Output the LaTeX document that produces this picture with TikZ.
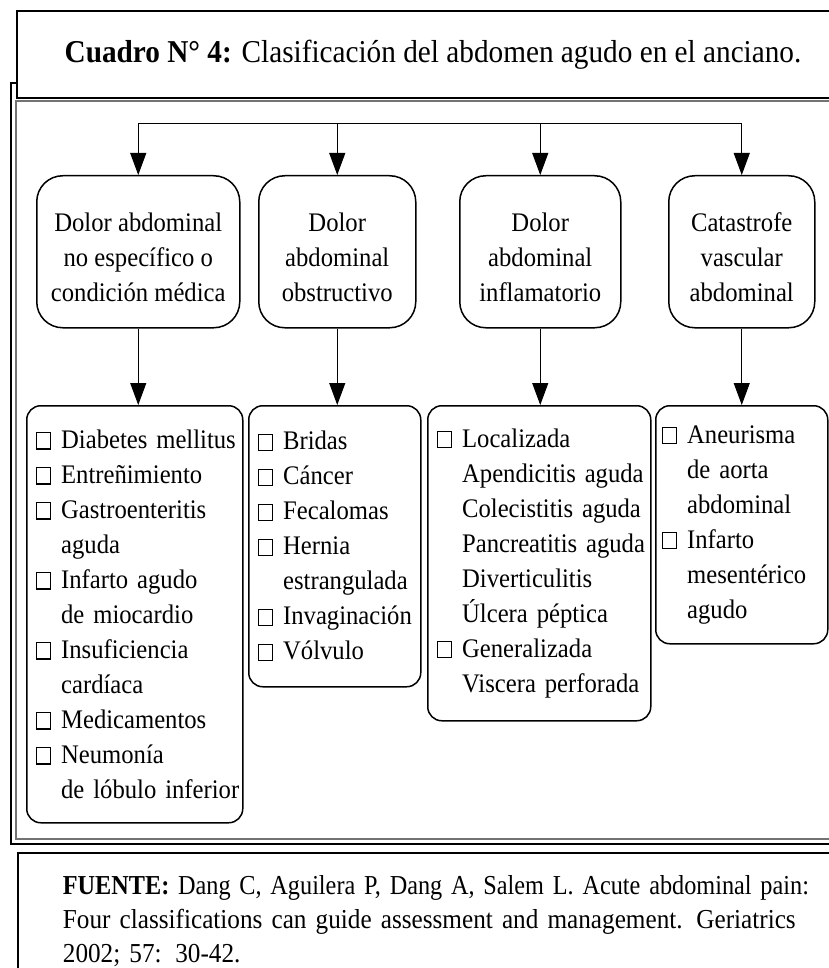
\documentclass[tikz,border=0pt]{standalone}
\usepackage{graphicx}
\usepackage{fontspec}
\setmainfont{Liberation Serif}[FakeStretch=0.92]
\usetikzlibrary{arrows.meta}
\newcommand{\cbx}{{\setlength{\fboxsep}{0pt}\setlength{\fboxrule}{1.2pt}\fbox{\rule{0pt}{15pt}\rule{13pt}{0pt}}}\hspace*{10pt}}
\newcommand{\cind}{\hspace*{25.4pt}}
\newcommand{\li}[1]{\mbox{\cbx #1}}
\newcommand{\lc}[1]{\mbox{\cind #1}}
\newcommand{\tstrut}{\rule{0pt}{29pt}}
\begin{document}
\begin{tikzpicture}[x=1pt,y=-1pt,
  catbox/.style={draw, line width=1.5pt, rounded corners=26pt, align=center,
    font=\fontsize{26.8}{35}\selectfont, inner sep=0pt, anchor=north west, minimum height=152pt},
  listbox/.style={draw, line width=1.5pt, rounded corners=14pt, align=left,
    font=\fontsize{26.8}{35}\selectfont, inner xsep=9pt, inner ysep=0pt, anchor=north west},
  arr/.style={-{Triangle[width=16pt,length=22pt]}, line width=1pt},
  link/.style={line width=1pt}]
\useasboundingbox (0,0) rectangle (828,968);
% frames
\draw[line width=1.8pt] (11,83) rectangle (845,844);
\draw[line width=1.3pt, black!55] (16,101) rectangle (845,839);
\node[draw, fill=white, line width=2pt, anchor=north west, minimum width=829pt, minimum height=87pt, inner sep=0pt,
  font=\fontsize{31.8}{35}\selectfont] (title) at (16,10)
  {\raisebox{-3pt}{\textbf{Cuadro N° 4:} Clasificación del abdomen agudo en el anciano.}\hspace*{-3pt}};
% category boxes
\node[catbox, minimum width=203pt] (u1) at (36,175) {\tstrut Dolor abdominal\\no específico o\\condición médica};
\node[catbox, minimum width=157pt] (u2) at (258,175) {\tstrut Dolor\\abdominal\\obstructivo};
\node[catbox, minimum width=161pt] (u3) at (459,175) {\tstrut Dolor\\abdominal\\inflamatorio};
\node[catbox, minimum width=146pt] (u4) at (668,175) {\tstrut Catastrofe\\vascular\\abdominal};
% list boxes
\node[listbox, text width=198pt, minimum height=417pt] (l1) at (26,405)
  {\li{Diabetes mellitus}\\\li{Entreñimiento}\\\li{Gastroenteritis}\\\lc{aguda}\\\li{Infarto agudo}\\\lc{de miocardio}\\\li{Insuficiencia}\\\lc{cardíaca}\\\li{Medicamentos}\\\li{Neumonía}\\\lc{de lóbulo inferior}};
\node[listbox, text width=154pt, minimum height=281pt] (l2) at (248,405)
  {\li{Bridas}\\\li{Cáncer}\\\li{Fecalomas}\\\li{Hernia}\\\lc{estrangulada}\\\li{Invaginación}\\\li{Vólvulo}};
\node[listbox, text width=205pt, minimum height=315pt] (l3) at (427,405)
  {\li{Localizada}\\\lc{Apendicitis aguda}\\\lc{Colecistitis aguda}\\\lc{Pancreatitis aguda}\\\lc{Diverticulitis}\\\lc{Úlcera péptica}\\\li{Generalizada}\\\lc{Viscera perforada}};
\node[listbox, text width=160pt, inner xsep=6pt, minimum height=238pt] (l4) at (655,405)
  {\li{Aneurisma}\\\lc{de aorta}\\\lc{abdominal}\\\li{Infarto}\\\lc{mesentérico}\\\lc{agudo}};
% connectors
\coordinate (top) at (0,124);
\draw[link] (u1.north |- top) -- (u4.north |- top);
\foreach \n in {u1,u2,u3,u4} \draw[arr] (\n.north |- top) -- (\n.north);
\foreach \a/\b in {u1/l1,u2/l2,u3/l3,u4/l4} \draw[arr] (\a.south) -- (\a.south |- \b.north);
% source
\node[draw, line width=1.8pt, anchor=north west, inner xsep=45pt, inner ysep=23pt, text width=746pt, align=left,
  font=\fontsize{27.4}{34}\selectfont] (src) at (17,852)
  {\resizebox{746pt}{\height}{\textbf{FUENTE:} Dang C, Aguilera P, Dang A, Salem L. Acute abdominal pain:}\\
   \makebox[746pt][s]{Four classifications can guide assessment and management. Geriatrics}\\
   2002; 57: 30-42.};
\end{tikzpicture}
\end{document}
